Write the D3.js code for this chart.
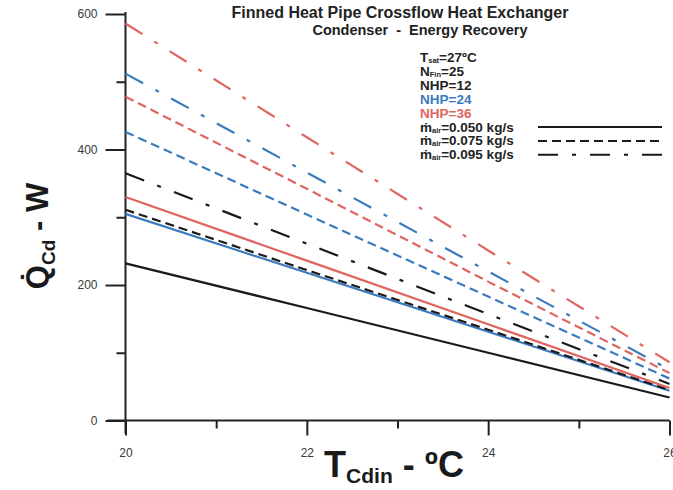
<!DOCTYPE html>
<html>
<head>
<meta charset="utf-8">
<script src="https://cdn.jsdelivr.net/npm/d3@7"></script>
<style>
  body { margin: 0; background: #fff; }
  svg { display: block; font-family: "Liberation Sans", Arial, sans-serif; }
</style>
</head>
<body>
<script>
// inlet temperature of the condenser air, degC
var tcdin = [20, 22, 24, 26]

// Q_cd (W), one list per NHP / air mass flow
var nhp12_m050 = [232, 166, 100, 34]
var nhp12_m075 = [311, 222, 134, 45]
var nhp12_m095 = [365, 261, 157, 54]
var nhp24_m050 = [305, 218, 131, 44]
var nhp24_m075 = [426, 304, 183, 62]
var nhp24_m095 = [512, 366, 220, 75]
var nhp36_m050 = [330, 236, 142, 48]
var nhp36_m075 = [478, 342, 205, 70]
var nhp36_m095 = [586, 418, 251, 86]

var xMajor = [20, 22, 24, 26]
var xMinor = [21, 23, 25]
var yMajor = [0, 200, 400, 600]
var yMinor = [100, 300, 500]

var black = "#1a1a1a", blue = "#3b7bbd", red = "#df6560"
var dashes = { solid: null, dashed: "9,5", dashdot: "20,14,4,14" }

var series = [
  { q: nhp12_m050, color: black, dash: "solid" },
  { q: nhp24_m050, color: blue,  dash: "solid" },
  { q: nhp12_m075, color: black, dash: "dashed" },
  { q: nhp36_m050, color: red,   dash: "solid" },
  { q: nhp12_m095, color: black, dash: "dashdot" },
  { q: nhp24_m075, color: blue,  dash: "dashed" },
  { q: nhp36_m075, color: red,   dash: "dashed" },
  { q: nhp24_m095, color: blue,  dash: "dashdot" },
  { q: nhp36_m095, color: red,   dash: "dashdot" }
]

var width = 673, height = 490

var svg = d3.select("body").append("svg")
  .attr("width", width)
  .attr("height", height)

var x = d3.scaleLinear().domain([20, 26]).range([125.5, 669.5])
var y = d3.scaleLinear().domain([0, 600]).range([420.5, 14])

// ---- axes ----
var axisColor = "#222"

var yAxis = svg.append("g").attr("transform", "translate(" + x(20) + ",0)")
yAxis.call(d3.axisLeft(y).tickValues(yMajor).tickSize(20).tickPadding(8)
  .tickSizeOuter(0).tickFormat(d3.format("d")))
yAxis.append("g").call(d3.axisLeft(y).tickValues(yMinor).tickSize(9).tickFormat(""))
yAxis.selectAll(".domain").remove()

var xAxis = svg.append("g").attr("transform", "translate(0," + y(0) + ")")
xAxis.call(d3.axisBottom(x).tickValues(xMajor).tickSize(15).tickPadding(13)
  .tickSizeOuter(0).tickFormat(d3.format("d")))
xAxis.append("g").call(d3.axisBottom(x).tickValues(xMinor).tickSize(8).tickFormat(""))
xAxis.selectAll(".domain").remove()

svg.selectAll(".tick line").attr("stroke", axisColor).attr("stroke-width", 2)
svg.selectAll(".tick text")
  .attr("fill", "#3a3a3a")
  .style("font-size", "12px")
  .style("font-family", "Liberation Sans, Arial, sans-serif")

// axis lines, stretched a bit past the origin as in the original
svg.append("line")
  .attr("x1", x(20)).attr("x2", x(20))
  .attr("y1", y(600) - 2).attr("y2", y(0) + 13)
  .attr("stroke", axisColor).attr("stroke-width", 2)
svg.append("line")
  .attr("x1", x(20) - 18).attr("x2", x(26))
  .attr("y1", y(0)).attr("y2", y(0))
  .attr("stroke", axisColor).attr("stroke-width", 2)

// ---- curves ----
var line = d3.line()
  .x(function(d, i) { return x(tcdin[i]) })
  .y(function(d) { return y(d) })

svg.append("g").selectAll("path")
  .data(series)
  .join("path")
  .attr("d", function(d) { return line(d.q) })
  .attr("fill", "none")
  .attr("stroke", function(d) { return d.color })
  .attr("stroke-width", 2.2)
  .attr("stroke-dasharray", function(d) { return dashes[d.dash] })

// ---- titles ----
svg.append("text")
  .attr("x", 400).attr("y", 18)
  .attr("text-anchor", "middle")
  .style("font-size", "16px").style("font-weight", "bold")
  .attr("fill", "#222")
  .text("Finned Heat Pipe Crossflow Heat Exchanger")

svg.append("text")
  .attr("x", 420).attr("y", 35)
  .attr("text-anchor", "middle")
  .style("font-size", "14.5px").style("font-weight", "bold")
  .attr("fill", "#222")
  .attr("xml:space", "preserve")
  .text("Condenser  -  Energy Recovery")

// y label  Qdot_Cd - W
var yl = svg.append("text")
  .attr("transform", "translate(48,236) rotate(-90)")
  .attr("text-anchor", "middle")
  .style("font-weight", "bold")
  .attr("fill", "#1a1a1a")
yl.append("tspan").style("font-size", "31px").text("Q\u0307")
yl.append("tspan").style("font-size", "19px").attr("dy", 7).text("Cd")
yl.append("tspan").style("font-size", "31px").attr("dy", -7).text(" - W")

// x label  T_Cdin - degC
var xl = svg.append("text")
  .attr("x", 394).attr("y", 477)
  .attr("text-anchor", "middle")
  .style("font-weight", "bold")
  .attr("fill", "#1a1a1a")
xl.append("tspan").style("font-size", "36px").text("T")
xl.append("tspan").style("font-size", "21px").attr("dy", 6).text("Cdin")
xl.append("tspan").style("font-size", "36px").attr("dy", -6).text(" - \u00baC")

// ---- legend ----
var legendText = [
  { main: "T", sub: "sat", rest: "=27\u00baC", color: "#222" },
  { main: "N", sub: "Fin", rest: "=25", color: "#222" },
  { main: "NHP=12", sub: "", rest: "", color: "#222" },
  { main: "NHP=24", sub: "", rest: "", color: blue },
  { main: "NHP=36", sub: "", rest: "", color: red },
  { main: "m\u0307", sub: "air", rest: "=0.050 kg/s", color: "#222", dash: "solid" },
  { main: "m\u0307", sub: "air", rest: "=0.075 kg/s", color: "#222", dash: "dashed" },
  { main: "m\u0307", sub: "air", rest: "=0.095 kg/s", color: "#222", dash: "dashdot" }
]

var lg = svg.append("g").attr("transform", "translate(420,62)")
var rows = lg.selectAll("g")
  .data(legendText)
  .join("g")
  .attr("transform", function(d, i) { return "translate(0," + (i * 13.9) + ")" })

var rowText = rows.append("text")
  .style("font-size", "13.5px").style("font-weight", "bold")
  .attr("fill", function(d) { return d.color })
rowText.append("tspan").text(function(d) { return d.main })
rowText.append("tspan").style("font-size", "7.5px").attr("dy", 1).text(function(d) { return d.sub })
rowText.append("tspan").attr("dy", -1).text(function(d) { return d.rest })

rows.filter(function(d) { return d.dash })
  .append("line")
  .attr("x1", 118).attr("x2", 242)
  .attr("y1", -4.5).attr("y2", -4.5)
  .attr("stroke", black)
  .attr("stroke-width", 2)
  .attr("stroke-dasharray", function(d) { return dashes[d.dash] })
</script>
</body>
</html>
